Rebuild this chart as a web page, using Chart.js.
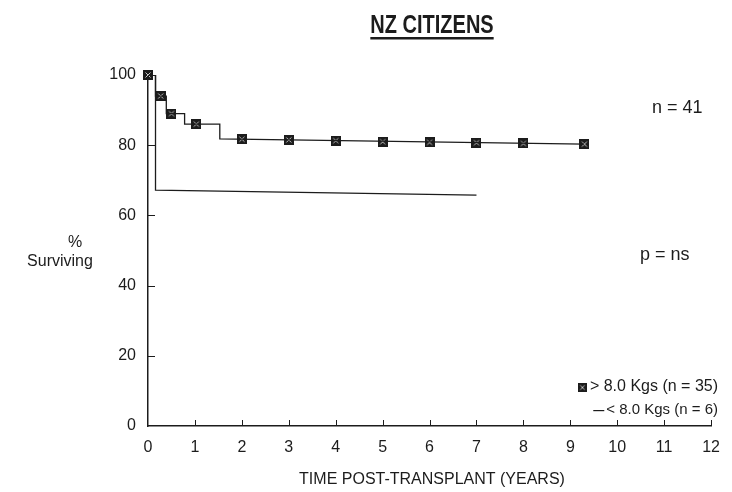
<!DOCTYPE html>
<html>
<head>
<meta charset="utf-8">
<title>NZ Citizens survival</title>
<script src="https://cdn.jsdelivr.net/npm/chart.js@4.4.1/dist/chart.umd.min.js"></script>
<style>
  html, body { margin: 0; padding: 0; background: #fff; }
  #wrap { width: 732px; height: 492px; }
</style>
</head>
<body>
<div id="wrap"><canvas id="survChart" width="732" height="492"></canvas></div>
<script>
// Kaplan-Meier steps (time in years, % surviving)
const heavyTime = [0, 0.16, 0.16, 0.39, 0.39, 0.78, 0.78, 1.53, 1.53, 9.3];
const heavySurv = [100, 100, 94, 94, 89, 89, 86, 86, 81.8, 80.3];
// censor marks on the > 8.0 Kgs curve
const markTime = [0, 0.27, 0.5, 1.03, 2, 3, 4, 5, 6, 7, 8, 9.3];
const markSurv = [100, 94, 89, 86, 81.7, 81.5, 81.3, 81.0, 80.8, 80.7, 80.5, 80.3];
// < 8.0 Kgs curve
const lightTime = [0, 0.16, 0.16, 7];
const lightSurv = [100, 100, 67.2, 65.8];

const xTicks = [0, 1, 2, 3, 4, 5, 6, 7, 8, 9, 10, 11, 12];
const yTicks = [0, 20, 40, 60, 80, 100];

const INK = '#1c1c1c';
const FONT = '"Liberation Sans", Arial, sans-serif';

function toPoints(xs, ys) {
    return xs.map((x, i) => ({ x: x, y: ys[i] }));
}

// small dark square with a light cross, like the scanned marker
function makeMarker() {
    const c = document.createElement('canvas');
    c.width = 10; c.height = 10;
    const g = c.getContext('2d');
    g.fillStyle = INK;
    g.fillRect(0, 0, 10, 10);
    g.strokeStyle = '#c8c8c8';
    g.lineWidth = 1;
    g.beginPath();
    g.moveTo(2.5, 2.5); g.lineTo(7.5, 7.5);
    g.moveTo(7.5, 2.5); g.lineTo(2.5, 7.5);
    g.stroke();
    return c;
}
const marker = makeMarker();

const decorations = {
    id: 'decorations',
    afterDraw(chart) {
        const ctx = chart.ctx;
        const xs = chart.scales.x;
        const ys = chart.scales.y;
        const area = chart.chartArea;
        ctx.save();

        // inward tick marks
        ctx.strokeStyle = INK;
        ctx.lineWidth = 1;
        ctx.beginPath();
        xTicks.forEach(t => {
            if (t === 0) return;
            const px = Math.round(xs.getPixelForValue(t)) + 0.5;
            ctx.moveTo(px, area.bottom);
            ctx.lineTo(px, area.bottom - 6);
        });
        yTicks.forEach(t => {
            if (t === 0) return;
            const py = Math.round(ys.getPixelForValue(t)) + 0.5;
            ctx.moveTo(area.left, py);
            ctx.lineTo(area.left + 7, py);
        });
        ctx.stroke();

        ctx.fillStyle = INK;
        ctx.textBaseline = 'middle';

        // title, bold condensed and underlined
        ctx.font = 'bold 25px ' + FONT;
        ctx.textAlign = 'center';
        const title = 'NZ CITIZENS';
        const tw = ctx.measureText(title).width * 0.8;
        ctx.save();
        ctx.translate(432, 26);
        ctx.scale(0.8, 1);
        ctx.fillText(title, 0, 0);
        ctx.restore();
        ctx.fillRect(432 - tw / 2, 37, tw, 2.5);

        // y axis caption
        ctx.font = '16px ' + FONT;
        ctx.fillText('%', 75, 243);
        ctx.fillText('Surviving', 60, 262);

        // notes on the right
        ctx.font = '18px ' + FONT;
        ctx.textAlign = 'left';
        ctx.fillText('n = 41', 652, 108);
        ctx.fillText('p = ns', 640, 255);

        // x axis caption
        ctx.font = '16px ' + FONT;
        ctx.textAlign = 'center';
        ctx.fillText('TIME POST-TRANSPLANT (YEARS)', 432, 480);

        // legend, right-aligned like the original
        ctx.textAlign = 'right';
        ctx.font = '16px ' + FONT;
        const t1 = '> 8.0 Kgs (n = 35)';
        ctx.fillText(t1, 718, 387);
        const w1 = ctx.measureText(t1).width;
        ctx.drawImage(marker, 718 - w1 - 12, 383, 9, 9);
        ctx.font = '15px ' + FONT;
        const t2 = '< 8.0 Kgs (n = 6)';
        ctx.fillText(t2, 718, 410);
        const w2 = ctx.measureText(t2).width;
        ctx.fillRect(718 - w2 - 13, 410, 11, 1.2);

        ctx.restore();
    }
};

new Chart(document.getElementById('survChart'), {
    type: 'line',
    data: {
        datasets: [
            {
                label: '> 8.0 Kgs (n = 35)',
                data: toPoints(heavyTime, heavySurv),
                borderColor: INK,
                borderWidth: 1.3,
                pointRadius: 0,
                tension: 0
            },
            {
                label: 'censored',
                data: toPoints(markTime, markSurv),
                showLine: false,
                clip: false,
                pointStyle: marker,
                pointRadius: 5,
                borderColor: INK,
                backgroundColor: INK
            },
            {
                label: '< 8.0 Kgs (n = 6)',
                data: toPoints(lightTime, lightSurv),
                borderColor: INK,
                borderWidth: 1.3,
                pointRadius: 0,
                tension: 0
            }
        ]
    },
    options: {
        responsive: false,
        animation: false,
        devicePixelRatio: 1,
        layout: { padding: { top: 75, right: 12, bottom: 0, left: 0 } },
        plugins: {
            legend: { display: false },
            tooltip: { enabled: false }
        },
        scales: {
            x: {
                type: 'linear',
                min: 0,
                max: 12,
                afterFit: s => { s.height = 66; },
                afterBuildTicks: s => { s.ticks = xTicks.map(v => ({ value: v })); },
                ticks: {
                    color: INK,
                    padding: 12,
                    autoSkip: false,
                    maxRotation: 0,
                    font: { family: FONT, size: 16 }
                },
                grid: { drawOnChartArea: false, drawTicks: false },
                border: { display: true, color: INK, width: 1.5 }
            },
            y: {
                min: 0,
                max: 100,
                afterFit: s => { s.width = 148; },
                afterBuildTicks: s => { s.ticks = yTicks.map(v => ({ value: v })); },
                ticks: {
                    color: INK,
                    padding: 12,
                    font: { family: FONT, size: 16 }
                },
                grid: { drawOnChartArea: false, drawTicks: false },
                border: { display: true, color: INK, width: 1.5 }
            }
        }
    },
    plugins: [decorations]
});
</script>
</body>
</html>
